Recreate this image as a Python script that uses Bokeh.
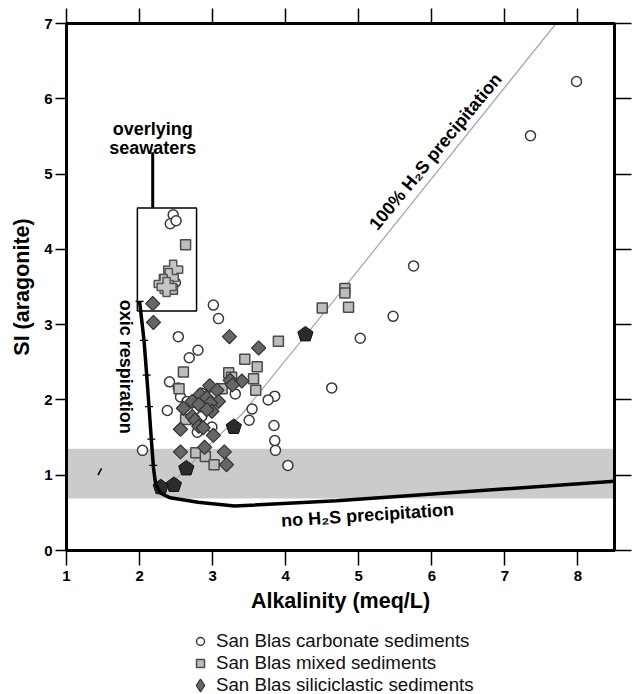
import numpy as np
from bokeh.plotting import figure
from bokeh.layouts import column
from bokeh.models import LinearAxis, FixedTicker, Legend, LegendItem, Range1d
from bokeh.core.properties import value
from bokeh.embed import file_html
from bokeh.resources import INLINE

# ---------------- data ----------------
carb_x = [7.98, 7.35, 5.75, 5.47, 5.02, 4.63, 4.03, 3.86, 3.85, 3.84, 3.85, 3.76, 3.54, 3.50,
          3.31, 3.01, 3.08, 2.53, 2.80, 2.68, 2.41, 2.53, 2.56, 2.85, 2.38, 2.65, 2.85, 2.99,
          2.79, 2.04, 2.46, 2.42, 2.50, 2.49]
carb_y = [6.23, 5.51, 3.78, 3.11, 2.82, 2.16, 1.13, 1.33, 1.46, 1.66, 2.05, 2.00, 1.88, 1.73,
          2.08, 3.26, 3.08, 2.84, 2.66, 2.56, 2.24, 2.16, 2.04, 2.09, 1.86, 1.98, 1.78, 1.64,
          1.57, 1.33, 4.46, 4.34, 4.38, 3.56]

mixed_x = [4.81, 4.81, 4.86, 4.50, 3.90, 3.44, 3.61, 3.56, 3.59, 2.60, 3.22, 3.26, 3.13,
           2.54, 2.63, 2.77, 2.90, 3.02, 2.63, 2.45]
mixed_y = [3.48, 3.42, 3.23, 3.22, 2.78, 2.54, 2.44, 2.28, 2.13, 2.37, 2.36, 2.30, 2.15,
           2.15, 1.74, 1.30, 1.25, 1.14, 4.06, 3.47]

sili_x = [2.18, 2.19, 3.23, 3.63, 3.40, 3.24, 3.27, 2.96, 3.06, 2.83, 2.92, 3.08, 2.97, 2.72,
          2.81, 2.60, 2.99, 2.92, 2.72, 2.76, 2.81, 2.87, 2.56, 3.01, 2.56, 2.89, 3.16, 3.19]
sili_y = [3.28, 3.03, 2.84, 2.69, 2.25, 2.26, 2.20, 2.19, 2.13, 2.07, 2.03, 1.98, 1.96, 1.98,
          1.94, 1.89, 1.85, 1.87, 1.78, 1.73, 1.65, 1.63, 1.61, 1.53, 1.31, 1.37, 1.31, 1.14]

pent_x = [4.27, 3.29, 2.64, 2.47, 2.29]
pent_y = [2.87, 1.64, 1.09, 0.87, 0.84]

sea_x = [2.46, 2.40, 2.33, 2.37]
sea_y = [3.73, 3.62, 3.54, 3.50]

oxic_x = [2.00, 2.06, 2.10, 2.13, 2.16, 2.19, 2.22, 2.29, 2.42, 2.80, 3.30, 4.70, 8.50]
oxic_y = [3.31, 2.80, 2.30, 1.90, 1.49, 1.10, 0.88, 0.76, 0.70, 0.64, 0.59, 0.66, 0.92]
hash_y = [3.31, 2.79, 2.33, 1.91, 1.48, 1.13]

h2s_x = [2.30, 2.60, 3.00, 3.40, 4.70, 7.70]
h2s_y = [0.78, 1.04, 1.45, 1.81, 3.37, 7.00]

band_lo, band_hi = 0.69, 1.35
box_left, box_right, box_bottom, box_top = 1.97, 2.78, 3.18, 4.55
lead_x, lead_y0, lead_y1 = 2.18, 4.55, 5.29
mark_x = [1.43, 1.48]
mark_y = [1.00, 1.09]

x_ticks = [1, 2, 3, 4, 5, 6, 7, 8]
y_ticks = [0, 1, 2, 3, 4, 5, 6, 7]

legend_labels = ["San Blas carbonate sediments", "San Blas mixed sediments",
                 "San Blas siliciclastic sediments"]

FONT = "Liberation Sans"

# marker styles shared by plot and legend
carb_style = dict(marker="circle", fill_color="white", line_color="#3a3a3a", line_width=1.5)
mixed_style = dict(marker="square", fill_color="#bdbdbd", line_color="#4a4a4a", line_width=1.5)
sili_style = dict(fill_color="#666666", line_color="#333333", line_width=1.2)

p = figure(frame_width=548, frame_height=527, x_range=(1, 8.5), y_range=(0, 7),
           output_backend="svg", toolbar_location=None,
           min_border_left=66, min_border_right=18, min_border_top=23,
           min_border_bottom=80, background_fill_color="white",
           border_fill_color="white", x_axis_location=None, y_axis_location=None)
p.xgrid.visible = False
p.ygrid.visible = False
p.outline_line_color = "black"
p.outline_line_width = 3


def style_axis(ax, ticks, tick_out, show_labels):
    ax.ticker = FixedTicker(ticks=ticks)
    ax.minor_tick_line_color = None
    ax.major_tick_in = 0
    ax.major_tick_out = tick_out
    ax.major_tick_line_width = 1.5
    ax.major_tick_line_color = "black"
    ax.axis_line_color = "black"
    ax.axis_line_width = 3
    if show_labels:
        ax.major_label_text_font = FONT
        ax.major_label_text_font_style = "bold"
        ax.major_label_text_font_size = "15px"
        ax.major_label_text_color = "black"
    else:
        ax.major_label_text_font_size = "1px"
        ax.major_label_text_color = None
        ax.major_label_standoff = 0


bottom = LinearAxis(axis_label="Alkalinity (meq/L)")
style_axis(bottom, x_ticks, 15, True)
bottom.major_label_standoff = 5
bottom.axis_label_standoff = 5
bottom.axis_label_text_font = FONT
bottom.axis_label_text_font_style = "bold"
bottom.axis_label_text_font_size = "21.5px"
bottom.axis_label_text_color = "black"
p.add_layout(bottom, "below")

left = LinearAxis(axis_label="SI (aragonite)")
style_axis(left, y_ticks, 11, True)
left.major_label_standoff = 3
left.axis_label_standoff = 7
left.axis_label_text_font = FONT
left.axis_label_text_font_style = "bold"
left.axis_label_text_font_size = "21.5px"
left.axis_label_text_color = "black"
p.add_layout(left, "left")

top = LinearAxis()
style_axis(top, x_ticks, 15, False)
p.add_layout(top, "above")

right = LinearAxis()
style_axis(right, y_ticks, 17, False)
p.add_layout(right, "right")

# shaded band
p.quad(left=1, right=8.5, bottom=band_lo, top=band_hi, fill_color="#cbcbcb", line_color=None)

# 100% H2S precipitation line
p.line(h2s_x, h2s_y, line_color="#aaaaaa", line_width=1.3)

# seawater box and leader
p.quad(left=box_left, right=box_right, bottom=box_bottom, top=box_top,
       fill_color=None, line_color="black", line_width=1.5)
p.segment(x0=lead_x, y0=lead_y0, x1=lead_x, y1=lead_y1, line_color="black", line_width=3)

# small mark
p.line(mark_x, mark_y, line_color="black", line_width=1.5)

# data
p.scatter(carb_x, carb_y, size=10, **carb_style)
p.scatter(mixed_x, mixed_y, size=10, **mixed_style)
p.scatter(sili_x, sili_y, size=10, marker="square", angle=np.pi / 4, **sili_style)

# pentagons
rx, ry = 8 / 73.1, 8 / 75.1
th = np.linspace(0, 2 * np.pi, 6)[:-1]
pxs = [list(cx + rx * np.sin(th)) for cx in pent_x]
pys = [list(cy + ry * np.cos(th)) for cy in pent_y]
p.patches(pxs, pys, fill_color="#2b2b2b", line_color="#111111", line_width=1)

# seawater crosses
p.scatter(sea_x, sea_y, marker="plus", size=19, fill_color="#c4c4c4",
          line_color="#555555", line_width=1.5)

# oxic respiration / no H2S curve
p.line(oxic_x, oxic_y, line_color="black", line_width=3.5)
hx = np.interp(hash_y, oxic_y[:8][::-1], oxic_x[:8][::-1])
p.segment(x0=hx - 0.055, y0=hash_y, x1=hx + 0.055, y1=hash_y, line_color="black", line_width=1.2)

# annotations
p.text(x=[2.18, 2.18], y=[5.60, 5.34], text=["overlying", "seawaters"],
       text_font=value(FONT), text_font_style="bold", text_font_size="18px",
       text_align="center", text_baseline="middle")
p.text(x=[1.82], y=[2.44], text=["oxic respiration"], angle=-np.pi / 2,
       text_font=value(FONT), text_font_style="bold", text_font_size="18px",
       text_align="center", text_baseline="middle")
p.text(x=[6.05], y=[5.30], text=["100% H\u2082S precipitation"], angle=np.deg2rad(50.5),
       text_font=value(FONT), text_font_style="bold", text_font_size="18px",
       text_align="center", text_baseline="middle")
p.text(x=[5.12], y=[0.47], text=["no H\u2082S precipitation"], angle=np.deg2rad(3.8),
       text_font=value(FONT), text_font_style="bold", text_font_size="18px",
       text_align="center", text_baseline="middle")

# ---------------- legend strip below ----------------
# the series are re-plotted here outside the visible range so that the
# legends can draw their glyphs while the strip itself stays empty
q = figure(width=632, height=64, output_backend="svg", toolbar_location=None,
           x_range=Range1d(-20, -10), y_range=Range1d(-20, -10),
           min_border=0, x_axis_location=None, y_axis_location=None,
           background_fill_color="white", border_fill_color="white")
q.outline_line_color = None
q.xgrid.visible = False
q.ygrid.visible = False
lc = q.scatter(carb_x, carb_y, **carb_style)
lm = q.scatter(mixed_x, mixed_y, **mixed_style)
ls = q.scatter(sili_x, sili_y, marker="diamond", **sili_style)

common = dict(orientation="vertical", border_line_color=None, background_fill_alpha=0,
              label_text_font=FONT, label_text_font_size="18.7px",
              label_text_color="#111111", padding=0, margin=0)

legend_a = Legend(items=[
    LegendItem(label=legend_labels[0], renderers=[lc]),
    LegendItem(label=legend_labels[1], renderers=[lm]),
], location=(124, 20.5), glyph_width=20, glyph_height=20, label_height=21, spacing=0,
    label_standoff=6, **common)
q.add_layout(legend_a, "center")

legend_b = Legend(items=[
    LegendItem(label=legend_labels[2], renderers=[ls]),
], location=(118, -6.5), glyph_width=32, glyph_height=32, label_height=21, spacing=0,
    label_standoff=0, **common)
q.add_layout(legend_b, "center")

layout = column(p, q, spacing=0)
open("out.html", "w").write(file_html(layout, INLINE))
